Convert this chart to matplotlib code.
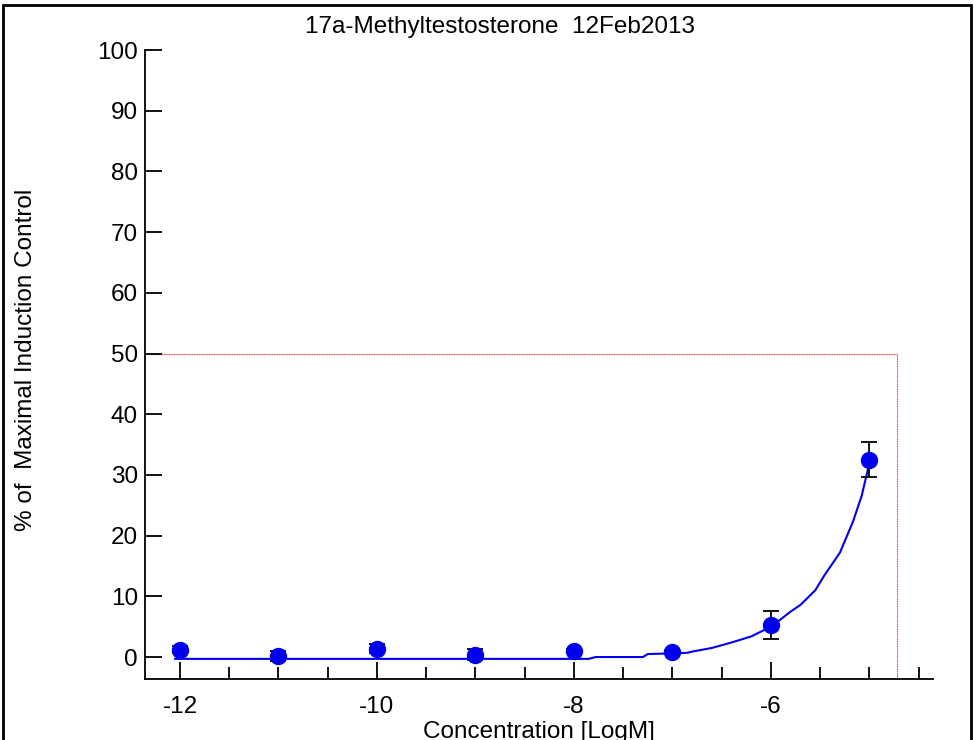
import matplotlib
matplotlib.use("Agg")
import matplotlib.pyplot as plt
from matplotlib.patches import Rectangle
from matplotlib.ticker import MultipleLocator

plt.rcParams['font.family'] = ['Liberation Sans', 'DejaVu Sans']
plt.rcParams['axes.unicode_minus'] = False

# measured points (log conc, % of max induction, error)
conc = [-12, -11, -10, -9, -8, -7, -6, -5]
resp = [1.2, 0.2, 1.4, 0.4, 1.0, 0.9, 5.3, 32.5]
err = [0.6, 0.8, 0.7, 0.9, 0.4, 0.3, 2.3, 2.9]

# fitted curve
curve_x = [-12.05, -7.85, -7.78, -7.3, -7.25, -7.0, -6.85, -6.8, -6.6, -6.4,
           -6.2, -6.05, -5.91, -5.8, -5.7, -5.55, -5.46, -5.3, -5.17, -5.08, -5.0]
curve_y = [-0.3, -0.3, 0.0, 0.0, 0.5, 0.6, 0.7, 0.9, 1.5, 2.4,
           3.4, 4.6, 6.1, 7.5, 8.6, 11.0, 13.4, 17.2, 22.2, 26.5, 32.0]

ec_level = 50
ec_x = -4.72

fs = 17.5

fig = plt.figure(figsize=(9.74, 7.40), dpi=100)
ax = fig.add_axes([0.1489, 0.0824, 0.8087, 0.85])

ax.plot(curve_x, curve_y, color='#0000ee', lw=1.5, zorder=2)
ax.errorbar(conc, resp, yerr=err, fmt='none', ecolor='black', elinewidth=1.3,
            capsize=5.5, capthick=1.3, zorder=3)
ax.plot(conc, resp, 'o', color='#0000ee', ms=11.5, zorder=4)

# red guide at 50%
ax.plot([-12.355, ec_x, ec_x], [ec_level, ec_level, -3.62], color='#ff4040',
        lw=0.8, ls=(0, (1, 0.5)), zorder=1)

ax.set_xlim(-12.355, -4.358)
ax.set_ylim(-3.62, 100)
ax.spines['top'].set_visible(False)
ax.spines['right'].set_visible(False)
ax.spines['left'].set_linewidth(1.3)
ax.spines['bottom'].set_linewidth(1.3)

ax.xaxis.set_major_locator(MultipleLocator(2))
ax.xaxis.set_minor_locator(MultipleLocator(0.5))
ax.yaxis.set_major_locator(MultipleLocator(10))
ax.tick_params(axis='x', which='major', direction='in', length=12, width=1.3,
               labelsize=fs, pad=12)
ax.tick_params(axis='x', which='minor', direction='in', length=9, width=1.3)
ax.tick_params(axis='y', direction='in', length=12, width=1.3, labelsize=fs, pad=5)

ax.set_xlabel('Concentration [LogM]', fontsize=fs)
ax.xaxis.set_label_coords(0.5, -0.066)
ax.set_ylabel('% of  Maximal Induction Control', fontsize=fs)
ax.yaxis.set_label_coords(-0.137, 0.508)
ax.set_title('17a-Methyltestosterone  12Feb2013', fontsize=fs, pad=12, x=0.451)

fig.patches.append(Rectangle((3 / 974, -0.02), 968 / 974, 1.02 - 5 / 740,
                             transform=fig.transFigure, fill=False,
                             edgecolor='black', lw=2))

fig.savefig('out.png', dpi=100)
